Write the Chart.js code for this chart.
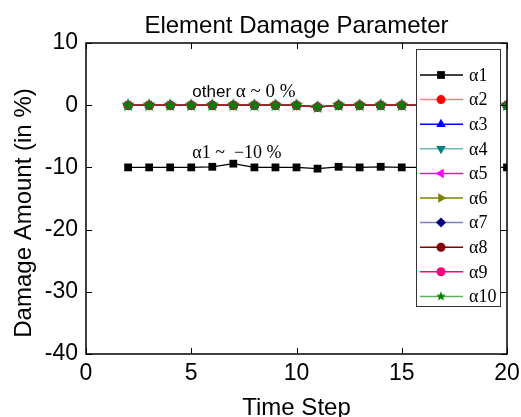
<!DOCTYPE html>
<html>
<head>
<meta charset="utf-8">
<script src="https://cdn.jsdelivr.net/npm/chart.js@4/dist/chart.umd.min.js"></script>
<style>
  html, body { margin: 0; padding: 0; background: #fff; }
</style>
</head>
<body>
<canvas id="chart" width="521" height="417"></canvas>
<script>
// ===== Data =====
const timeSteps = [2, 3, 4, 5, 6, 7, 8, 9, 10, 11, 12, 13, 14, 15, 16, 17, 18, 19, 20];
const alpha1 = [-10, -10, -10, -10, -9.9, -9.4, -10, -10, -10, -10.2, -9.9, -10, -9.9, -10, -10, -10, -10, -10, -10];
const otherAlphas = [0, 0, 0, 0, 0, 0, 0, 0, 0, -0.3, 0, 0, 0, 0, 0, 0, 0, 0, 0];
const seriesNames = ["α1", "α2", "α3", "α4", "α5", "α6", "α7", "α8", "α9", "α10"];
const xTicks = [0, 5, 10, 15, 20];
const yTicks = [-40, -30, -20, -10, 0, 10];

// filled star marker for α10
function makeStar(color, r) {
  const c = document.createElement("canvas");
  c.width = c.height = r * 2 + 2;
  const g = c.getContext("2d");
  g.fillStyle = color;
  g.beginPath();
  for (let i = 0; i < 10; i++) {
    const rad = i % 2 === 0 ? r : r * 0.45;
    const a = -Math.PI / 2 + i * Math.PI / 5;
    g.lineTo(r + 1 + rad * Math.cos(a), r + 1 + rad * Math.sin(a));
  }
  g.closePath();
  g.fill();
  return c;
}

// ===== Styles =====
const styles = [
  { line: "#000000", mark: "#000000", shape: "rect", r: 5.5, rot: 0 },
  { line: "#ff8080", mark: "#ff0000", shape: "circle", r: 4.5, rot: 0 },
  { line: "#0000ff", mark: "#0000ff", shape: "triangle", r: 5.5, rot: 0 },
  { line: "#70b8b8", mark: "#008080", shape: "triangle", r: 5.5, rot: 180 },
  { line: "#ff00ff", mark: "#ff00ff", shape: "triangle", r: 5.5, rot: 270 },
  { line: "#808000", mark: "#808000", shape: "triangle", r: 5.5, rot: 90 },
  { line: "#8080c0", mark: "#000080", shape: "rectRot", r: 5, rot: 0 },
  { line: "#800000", mark: "#800000", shape: "circle", r: 4.5, rot: 0 },
  { line: "#ff0080", mark: "#ff0080", shape: "circle", r: 4.5, rot: 0 },
  { line: "#60b060", mark: "#008000", shape: makeStar("#008000", 7), r: 7, rot: 0 }
];
const legendStar = makeStar("#008000", 5);

const datasets = seriesNames.map((name, i) => {
  const vals = i === 0 ? alpha1 : otherAlphas;
  const s = styles[i];
  return {
    label: name,
    data: timeSteps.map((t, k) => ({ x: t, y: vals[k] })),
    borderColor: i === 9 ? "#7a3a10" : s.line,
    backgroundColor: s.mark,
    pointBorderColor: s.mark,
    pointBackgroundColor: s.mark,
    pointStyle: s.shape,
    pointRadius: s.r,
    pointRotation: s.rot,
    pointBorderWidth: 0,
    borderWidth: 1.3,
    tension: 0,
    order: 10 - i
  };
});

const SANS = "'Liberation Sans', Arial, sans-serif";
const SERIF = "'Liberation Serif', 'Times New Roman', serif";

// ===== Frame, inward ticks, notes, legend =====
const decor = {
  id: "decor",
  afterDraw(chart) {
    const ctx = chart.ctx;
    const a = chart.chartArea;
    const xs = chart.scales.x, ys = chart.scales.y;
    ctx.save();
    ctx.strokeStyle = "#000";
    ctx.lineWidth = 1.5;
    ctx.strokeRect(a.left, a.top, a.right - a.left, a.bottom - a.top);
    ctx.lineWidth = 1;
    const tl = 6;
    ctx.beginPath();
    xTicks.forEach(v => {
      const px = Math.round(xs.getPixelForValue(v)) + 0.5;
      ctx.moveTo(px, a.bottom); ctx.lineTo(px, a.bottom - tl);
      ctx.moveTo(px, a.top); ctx.lineTo(px, a.top + tl);
    });
    yTicks.forEach(v => {
      const py = Math.round(ys.getPixelForValue(v)) + 0.5;
      ctx.moveTo(a.left, py); ctx.lineTo(a.left + tl, py);
      ctx.moveTo(a.right, py); ctx.lineTo(a.right - tl, py);
    });
    ctx.stroke();

    // notes on the plot
    ctx.fillStyle = "#000";
    ctx.textBaseline = "alphabetic";
    ctx.textAlign = "left";
    let nx = xs.getPixelForValue(5.05);
    ctx.font = "17px " + SANS;
    ctx.fillText("other ", nx, ys.getPixelForValue(1.3));
    const w = ctx.measureText("other ").width;
    ctx.font = "19px " + SERIF;
    ctx.fillText("α ~ 0 %", nx + w, ys.getPixelForValue(1.3));
    ctx.font = "18px " + SERIF;
    ctx.fillText("α1 ~  −10 %", nx, ys.getPixelForValue(-8.5));

    // legend box
    const lx = 416, ly = 49, lw = 84, lh = 257;
    ctx.fillStyle = "#fff";
    ctx.fillRect(lx, ly, lw, lh);
    ctx.strokeStyle = "#333";
    ctx.lineWidth = 1;
    ctx.strokeRect(lx + 0.5, ly + 0.5, lw, lh);
    ctx.font = "18px " + SERIF;
    ctx.textBaseline = "middle";
    chart.data.datasets.forEach((ds, i) => {
      const s = styles[i];
      const y = 75 + i * 24.6;
      ctx.strokeStyle = s.line;
      ctx.lineWidth = 1.5;
      ctx.beginPath();
      ctx.moveTo(420, y); ctx.lineTo(463, y);
      ctx.stroke();
      ctx.fillStyle = s.mark;
      ctx.strokeStyle = s.mark;
      const shape = i === 9 ? legendStar : s.shape;
      Chart.helpers.drawPoint(ctx, { pointStyle: shape, radius: s.r, rotation: s.rot, borderWidth: 0 }, 441, y);
      ctx.fillStyle = "#000";
      ctx.fillText(ds.label, 469, y + 1);
    });

    // title and y axis title
    ctx.font = "24px " + SANS;
    ctx.textAlign = "center";
    ctx.textBaseline = "alphabetic";
    ctx.fillStyle = "#000";
    ctx.fillText("Element Damage Parameter", (a.left + a.right) / 2, 33);
    ctx.translate(31, 213);
    ctx.rotate(-Math.PI / 2);
    ctx.fillText("Damage Amount (in %)", 0, 0);
    ctx.restore();
  }
};

new Chart(document.getElementById("chart"), {
  type: "line",
  data: { datasets },
  options: {
    responsive: false,
    animation: false,
    layout: { padding: { top: 43, right: 14, left: 0, bottom: 0 } },
    plugins: { legend: { display: false }, tooltip: { enabled: false }, title: { display: false } },
    scales: {
      x: {
        type: "linear",
        min: 0, max: 20,
        afterFit(scale) { scale.height = 63; scale.paddingLeft = 0; scale.paddingRight = 0; },
        afterBuildTicks(scale) { scale.ticks = xTicks.map(v => ({ value: v })); },
        grid: { display: false },
        border: { display: false },
        ticks: { color: "#000", font: { family: SANS, size: 23 }, padding: -2, maxRotation: 0 },
        title: { display: true, text: "Time Step", color: "#000", font: { family: SANS, size: 24 }, padding: { top: 0, bottom: -6 } }
      },
      y: {
        min: -40, max: 10,
        afterFit(scale) { scale.width = 86; scale.paddingTop = 0; scale.paddingBottom = 0; },
        afterBuildTicks(scale) { scale.ticks = yTicks.map(v => ({ value: v })); },
        grid: { display: false },
        border: { display: false },
        ticks: { color: "#000", font: { family: SANS, size: 23 }, padding: 0 }
      }
    }
  },
  plugins: [decor]
});
</script>
</body>
</html>
